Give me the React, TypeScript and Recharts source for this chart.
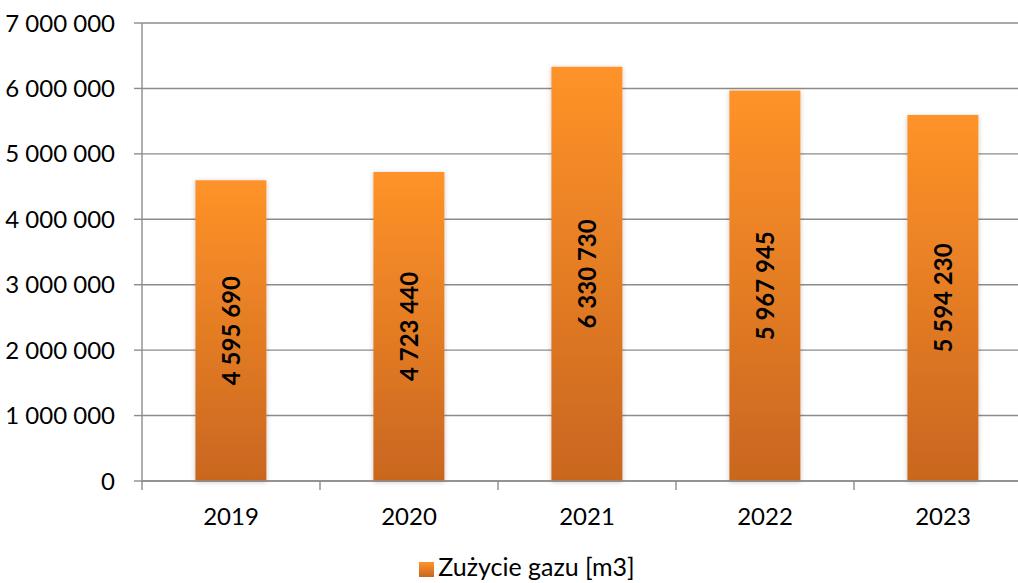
import { BarChart, Bar, XAxis, YAxis, CartesianGrid, Legend, LabelList } from 'recharts';

const years = ['2019', '2020', '2021', '2022', '2023'];
const gasUsage = [4595690, 4723440, 6330730, 5967945, 5594230];
const yTicks = [0, 1000000, 2000000, 3000000, 4000000, 5000000, 6000000, 7000000];

const data = years.map((year, i) => ({ year, gas: gasUsage[i] }));

// polish style: thousands split with spaces
const fmt = (v: number) => String(v).replace(/\B(?=(\d{3})+(?!\d))/g, ' ');

const font = 'Lato, "Open Sans", sans-serif';
const axisColor = '#8c8c8c';

// category label plus a tick mark on the left edge of each category band
const YearTick = (props: any) => {
  const { x, y, payload, width, visibleTicksCount } = props;
  const half = payload.offset ?? width / (2 * visibleTicksCount);
  return (
    <g>
      <line x1={x - half} x2={x - half} y1={y} y2={y + 9} stroke={axisColor} strokeWidth={1.4} />
      <text x={x} y={y + 27} dy="0.71em" textAnchor="middle" fill="#000" fontSize={24} fontFamily={font}>
        {payload.value}
      </text>
    </g>
  );
};

const BarValue = (props: any) => {
  const { x, y, width, height, value } = props;
  const cx = x + width / 2;
  const cy = y + height / 2;
  return (
    <text
      x={cx}
      y={cy}
      transform={`rotate(-90, ${cx}, ${cy})`}
      textAnchor="middle"
      dominantBaseline="central"
      fill="#000"
      fontWeight={700}
      fontSize={24}
      fontFamily={font}
    >
      {fmt(value)}
    </text>
  );
};

export default function App() {
  return (
    <div style={{ position: 'fixed', left: 0, top: 0, width: 1018, height: 583, overflow: 'hidden', background: '#fff' }}>
      <BarChart
        width={1040}
        height={583}
        data={data}
        margin={{ top: 23, right: 8, bottom: 0, left: 0 }}
        barCategoryGap="30%"
        style={{ fontFamily: font }}
      >
        <defs>
          <linearGradient id="gasGradient" x1="0" y1="0" x2="0" y2="1">
            <stop offset="0%" stopColor="#ff9329" />
            <stop offset="100%" stopColor="#c9661f" />
          </linearGradient>
          <filter id="barShadow" x="-20%" y="-5%" width="140%" height="110%">
            <feDropShadow dx="0" dy="1" stdDeviation="2.5" floodColor="#000" floodOpacity="0.22" />
          </filter>
        </defs>
        <CartesianGrid vertical={false} stroke={axisColor} strokeWidth={1.4} />
        <XAxis
          dataKey="year"
          tickLine={false}
          tickSize={0}
          tickMargin={0}
          axisLine={{ stroke: axisColor, strokeWidth: 1.4 }}
          tick={<YearTick />}
          height={72}
        />
        <YAxis
          width={142}
          domain={[0, 7000000]}
          ticks={yTicks}
          tickFormatter={fmt}
          tick={{ fill: '#000', fontSize: 24 }}
          tickSize={8}
          tickMargin={19}
          tickLine={{ stroke: axisColor, strokeWidth: 1.4 }}
          axisLine={{ stroke: axisColor, strokeWidth: 1.4 }}
        />
        <Legend
          verticalAlign="bottom"
          iconType="square"
          iconSize={15}
          wrapperStyle={{ left: 16, bottom: 2, fontSize: 25 }}
          formatter={(value) => <span style={{ color: '#000' }}>{value}</span>}
        />
        <Bar
          dataKey="gas"
          name="Zużycie gazu [m3]"
          fill="url(#gasGradient)"
          filter="url(#barShadow)"
          isAnimationActive={false}
        >
          <LabelList dataKey="gas" content={<BarValue />} />
        </Bar>
      </BarChart>
    </div>
  );
}
